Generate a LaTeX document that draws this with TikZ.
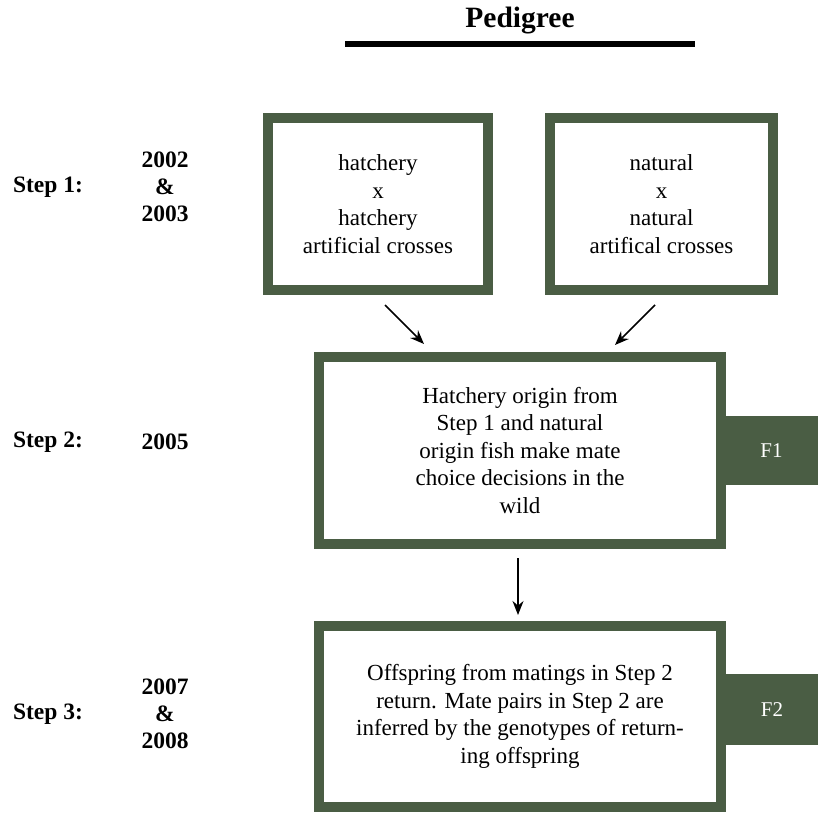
\documentclass[tikz,border=0pt]{standalone}
\usepackage{fontspec}
\setmainfont{Liberation Serif}
\usetikzlibrary{arrows.meta}
\definecolor{pedgreen}{HTML}{4A5D44}
\tikzset{
  genbox/.style={draw=pedgreen, line width=10pt, fill=white, align=center,
    inner sep=0pt, font=\fontsize{23}{27.5}\selectfont},
  gentab/.style={fill=pedgreen, text=white, inner sep=0pt,
    font=\fontsize{21}{25}\selectfont},
  steplabel/.style={font=\bfseries\fontsize{23.5}{27}\selectfont, align=center},
  flowarrow/.style={-{Stealth[length=14pt,width=11pt]}, line width=1.5pt}
}
\begin{document}
\begin{tikzpicture}[x=1pt, y=-1pt]
                \useasboundingbox (0,0) rectangle (818,813);
                
                % Drawing title Pedigree
                \node [font=\bfseries\fontsize{29.5}{32}\selectfont] (title) at (520,21) {Pedigree};
                \coordinate (ruleL) at (345,44);
                \coordinate (ruleR) at (695,44);
                \draw [line width=6pt] (ruleL) -- (ruleR);
                
                % Drawing tabs F1 F2
                \node [gentab, minimum width=93pt, minimum height=69pt] (fone) at (771.5,450.5) {F1};
                \node [gentab, minimum width=92pt, minimum height=71pt] (ftwo) at (772,709.5) {F2};
                
                % Drawing box Step 1 hatchery
                \node [genbox, minimum width=220pt, minimum height=172pt] (hatch) at (378,204)
                  {hatchery\\x\\hatchery\\artificial crosses};
                
                % Drawing box Step 1 natural
                \node [genbox, minimum width=223pt, minimum height=172pt] (natur) at (661.5,204)
                  {natural\\x\\natural\\artifical crosses};
                
                % Drawing box Step 2
                \node [genbox, minimum width=402pt, minimum height=187pt] (wild) at (520,450.5)
                  {Hatchery origin from\\Step 1 and natural\\origin fish make mate\\choice decisions in the\\wild};
                
                % Drawing box Step 3
                \node [genbox, minimum width=402pt, minimum height=181pt] (return) at (520,716.5)
                  {Offspring from matings in Step 2\\return. Mate pairs in Step 2 are\\inferred by the genotypes of return-\\ing offspring};
                
                % Drawing arrows
                \coordinate (hatchOut) at (385,305);
                \coordinate (wildInL) at (424,344);
                \coordinate (naturOut) at (655,305);
                \coordinate (wildInR) at (615,345);
                \coordinate (wildOut) at (518,558);
                \coordinate (returnIn) at (518,615);
                \draw [flowarrow] (hatchOut) -- (wildInL);
                \draw [flowarrow] (naturOut) -- (wildInR);
                \draw [flowarrow] (wildOut) -- (returnIn);
                
                % Marking steps and years
                \node [steplabel] (stepone) at (48,187) {Step 1:};
                \node [steplabel] (yearone) at (165,187) {2002\\\&\\2003};
                \node [steplabel] (steptwo) at (48,442) {Step 2:};
                \node [steplabel] (yeartwo) at (165,442) {2005};
                \node [steplabel] (stepthree) at (48,714) {Step 3:};
                \node [steplabel] (yearthree) at (165,714) {2007\\\&\\2008};
            \end{tikzpicture}
\end{document}
